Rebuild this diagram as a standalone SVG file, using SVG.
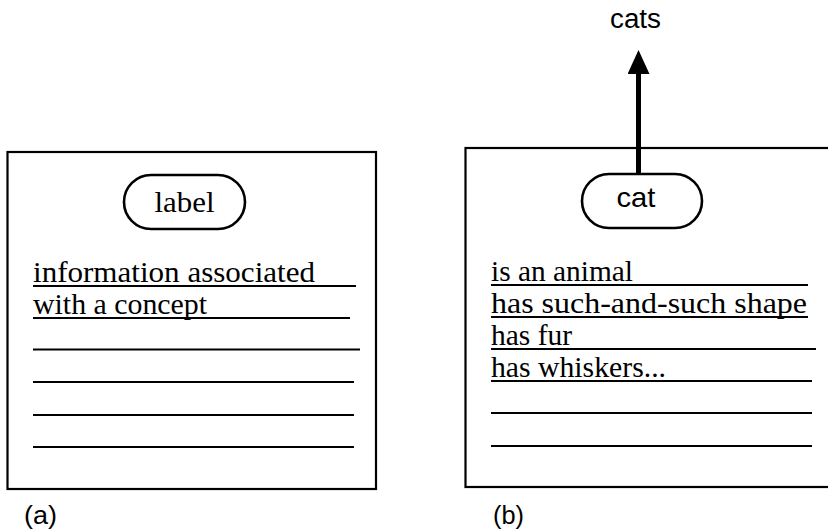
<svg xmlns="http://www.w3.org/2000/svg" width="828" height="532" viewBox="0 0 828 532">
<defs>
<style>
.box{fill:#fff;stroke:#000;stroke-width:2.2}
.pill{fill:#fff;stroke:#000;stroke-width:2.6}
.rule{stroke:#000;stroke-width:2;fill:none}
.serif{font-family:"Liberation Serif","Times New Roman",serif;font-size:30px;fill:#000}
.sans{font-family:"Liberation Sans",Arial,sans-serif;fill:#000}
.cap{font-family:"Liberation Sans",Arial,sans-serif;font-size:26px;fill:#000}
</style>
<marker id="arrow" markerUnits="userSpaceOnUse" markerWidth="24" markerHeight="22" refX="0" refY="11" orient="auto" viewBox="0 0 24 22">
<path d="M0,0 L24,11 L0,22 Z" fill="#000"/>
</marker>
</defs>
<rect width="828" height="532" fill="#fff"/>

<g id="frame-a">
<rect class="box" x="7.5" y="152" width="368.5" height="337"/>
<g id="label-node">
<rect class="pill" x="124" y="175" width="121" height="54" rx="27" ry="27"/>
<text class="serif" x="184.5" y="212" text-anchor="middle" textLength="60" lengthAdjust="spacingAndGlyphs">label</text>
</g>
<text class="serif" x="33" y="282" textLength="282" lengthAdjust="spacingAndGlyphs">information associated</text>
<text class="serif" x="33" y="314" textLength="174" lengthAdjust="spacingAndGlyphs">with a concept</text>
<line class="rule" x1="33" y1="286" x2="356" y2="286"/>
<line class="rule" x1="33" y1="318" x2="350" y2="318"/>
<line class="rule" x1="33" y1="349.5" x2="360" y2="349.5"/>
<line class="rule" x1="33" y1="382" x2="354" y2="382"/>
<line class="rule" x1="33" y1="415" x2="354" y2="415"/>
<line class="rule" x1="33" y1="447" x2="354" y2="447"/>
<text class="cap" x="24" y="524" textLength="33" lengthAdjust="spacingAndGlyphs">(a)</text>
</g>

<g id="frame-b">
<rect class="box" x="465.5" y="148" width="380" height="339"/>
<g id="cat-node">
<rect class="pill" x="582" y="174" width="120" height="54" rx="27" ry="27"/>
<text class="sans" x="636" y="207" font-size="28" text-anchor="middle" textLength="39" lengthAdjust="spacingAndGlyphs">cat</text>
</g>
<text class="serif" x="491" y="281" textLength="142" lengthAdjust="spacingAndGlyphs">is an animal</text>
<text class="serif" x="491" y="313" textLength="316" lengthAdjust="spacingAndGlyphs">has such-and-such shape</text>
<text class="serif" x="491" y="345" textLength="81" lengthAdjust="spacingAndGlyphs">has fur</text>
<text class="serif" x="491" y="377" textLength="175" lengthAdjust="spacingAndGlyphs">has whiskers...</text>
<line class="rule" x1="491" y1="285" x2="808" y2="285"/>
<line class="rule" x1="491" y1="317" x2="808" y2="317"/>
<line class="rule" x1="491" y1="349" x2="816" y2="349"/>
<line class="rule" x1="491" y1="381" x2="812" y2="381"/>
<line class="rule" x1="491" y1="413" x2="812" y2="413"/>
<line class="rule" x1="491" y1="446" x2="812" y2="446"/>
<text class="cap" x="493" y="524" textLength="31" lengthAdjust="spacingAndGlyphs">(b)</text>
</g>

<g id="cats-node">
<text class="sans" x="635.5" y="28" font-size="27" text-anchor="middle" textLength="51" lengthAdjust="spacingAndGlyphs">cats</text>
</g>

<g id="connectors">
<line x1="638.5" y1="174" x2="638.5" y2="74" stroke="#000" stroke-width="5" marker-end="url(#arrow)"/>
</g>
</svg>
